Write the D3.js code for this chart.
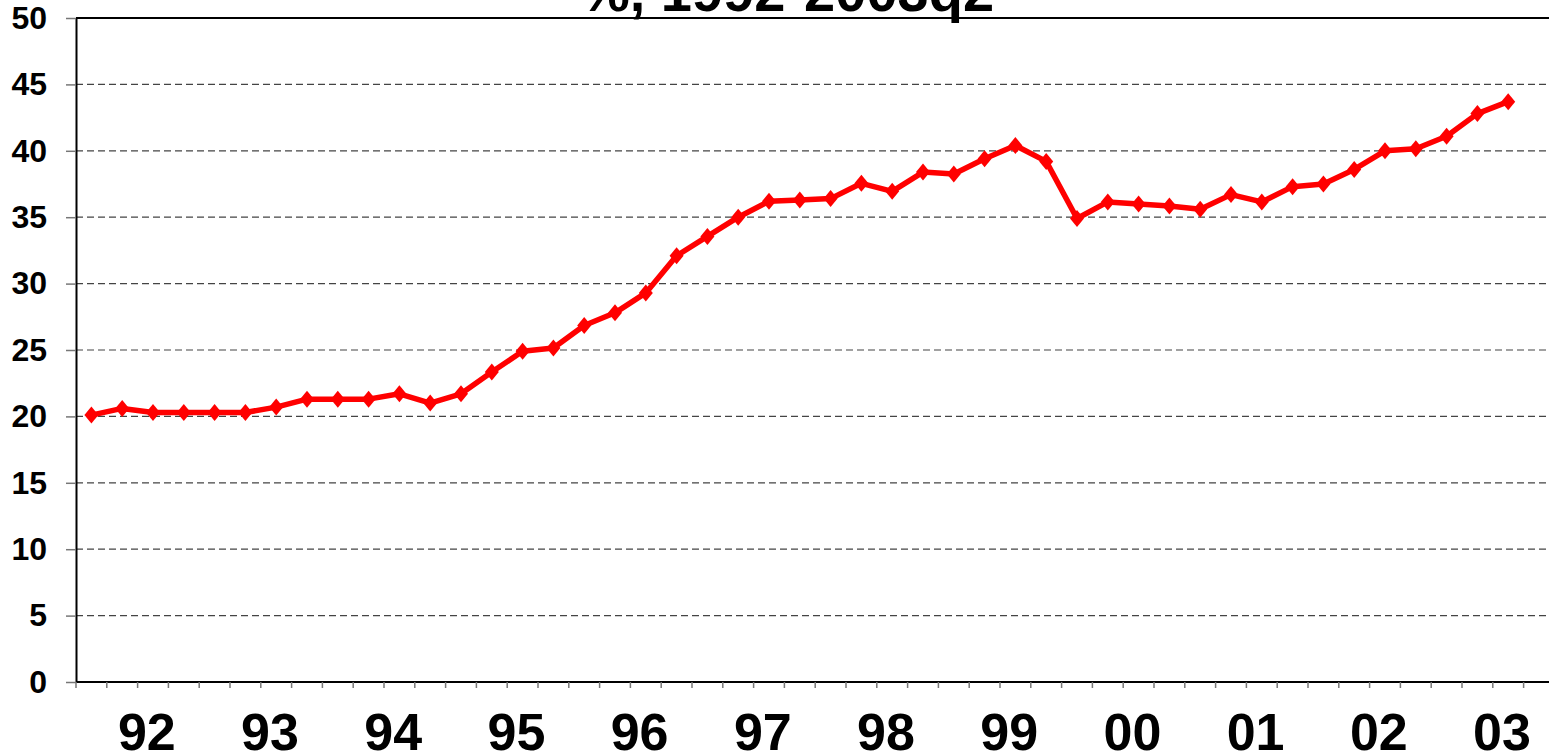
<!DOCTYPE html>
<html>
<head>
<meta charset="utf-8">
<script src="https://cdn.jsdelivr.net/npm/d3@7"></script>
<style>
  body { margin: 0; background: #fff; }
  svg { display: block; font-family: "Liberation Sans", Arial, sans-serif; }
</style>
</head>
<body>
<div id="chart"></div>
<script>
const quarters = [
  "92Q1","92Q2","92Q3","92Q4","93Q1","93Q2","93Q3","93Q4",
  "94Q1","94Q2","94Q3","94Q4","95Q1","95Q2","95Q3","95Q4",
  "96Q1","96Q2","96Q3","96Q4","97Q1","97Q2","97Q3","97Q4",
  "98Q1","98Q2","98Q3","98Q4","99Q1","99Q2","99Q3","99Q4",
  "00Q1","00Q2","00Q3","00Q4","01Q1","01Q2","01Q3","01Q4",
  "02Q1","02Q2","02Q3","02Q4","03Q1","03Q2","03Q3","03Q4"
]
const values = [
  20.1, 20.6, 20.3, 20.3, 20.3, 20.3, 20.7, 21.3,
  21.3, 21.3, 21.7, 21.0, 21.7, 23.35, 24.9, 25.15,
  26.85, 27.8, 29.3, 32.1, 33.55, 35.0, 36.2, 36.3,
  36.4, 37.55, 36.95, 38.4, 38.25, 39.4, 40.4, 39.2,
  34.9, 36.15, 36.0, 35.85, 35.6, 36.7, 36.15, 37.3,
  37.5, 38.6, 40.0, 40.15, 41.1, 42.8, 43.7
]
const yearLabels = ["92","93","94","95","96","97","98","99","00","01","02","03"]
const yTicks = [0, 5, 10, 15, 20, 25, 30, 35, 40, 45, 50]
const title = "%, 1992-2003q2"

const W = 1549, H = 752
const margin = {top: 18, left: 76, bottom: 70}
const plotRight = 76 + 48 * 30.8

const svg = d3.select("#chart").append("svg")
  .attr("width", W)
  .attr("height", H)

const x = d3.scaleBand()
  .domain(quarters)
  .range([margin.left, plotRight])

const y = d3.scaleLinear()
  .domain([0, 50])
  .range([H - margin.bottom, margin.top])

// gridlines
svg.append("g")
  .selectAll("line")
  .data(yTicks.filter(d => d > 0 && d < 50))
  .join("line")
  .attr("x1", margin.left)
  .attr("x2", plotRight)
  .attr("y1", d => y(d))
  .attr("y2", d => y(d))
  .attr("stroke", "#444")
  .attr("stroke-width", 1.2)
  .attr("stroke-dasharray", "7,4")

// top border
svg.append("line")
  .attr("x1", margin.left).attr("x2", plotRight)
  .attr("y1", y(50)).attr("y2", y(50))
  .attr("stroke", "#000").attr("stroke-width", 2)

// y axis
const yAxis = svg.append("g")
  .attr("transform", `translate(${margin.left},0)`)
  .call(d3.axisLeft(y).tickValues(yTicks).tickSize(10).tickSizeOuter(0))
yAxis.select(".domain").attr("stroke", "#000").attr("stroke-width", 2)
yAxis.selectAll(".tick line").attr("stroke", "#777").attr("stroke-width", 1.5)
yAxis.selectAll(".tick text")
  .attr("x", -29)
  .attr("font-size", 32)
  .attr("font-weight", "bold")
  .attr("fill", "#000")
  .attr("font-family", "Liberation Sans, Arial, sans-serif")

// x axis: ticks at category boundaries
const xAxis = svg.append("g")
  .attr("transform", `translate(0,${y(0)})`)
xAxis.append("line")
  .attr("x1", margin.left).attr("x2", plotRight)
  .attr("stroke", "#000").attr("stroke-width", 2)
xAxis.selectAll(".qtick")
  .data(quarters)
  .join("line")
  .attr("class", "qtick")
  .attr("x1", d => x(d))
  .attr("x2", d => x(d))
  .attr("y1", 0)
  .attr("y2", 6)
  .attr("stroke", "#777")
  .attr("stroke-width", 1.5)

// year labels (reference has them a bit left of the Q3 centre)
xAxis.selectAll(".ylabel")
  .data(yearLabels)
  .join("text")
  .attr("class", "ylabel")
  .attr("x", d => x(d + "Q3") + 0.3 * x.bandwidth())
  .attr("y", 68)
  .attr("text-anchor", "middle")
  .attr("font-size", 52)
  .attr("font-weight", "bold")
  .text(d => d)

// series
const points = values.map((v, i) => ({q: quarters[i], v}))
const line = d3.line()
  .x(d => x(d.q) + x.bandwidth() / 2)
  .y(d => y(d.v))

svg.append("path")
  .datum(points)
  .attr("fill", "none")
  .attr("stroke", "#ff0000")
  .attr("stroke-width", 5.5)
  .attr("stroke-linejoin", "round")
  .attr("d", line)

svg.append("g")
  .selectAll("path")
  .data(points)
  .join("path")
  .attr("transform", d => `translate(${x(d.q) + x.bandwidth() / 2},${y(d.v)})`)
  .attr("d", "M0,-8.5L7,0L0,8.5L-7,0Z")
  .attr("fill", "#ff0000")

// title (mostly above the visible area)
svg.append("text")
  .attr("x", 787)
  .attr("y", 11)
  .attr("text-anchor", "middle")
  .attr("font-size", 56)
  .attr("font-weight", "bold")
  .text(title)
</script>
</body>
</html>
